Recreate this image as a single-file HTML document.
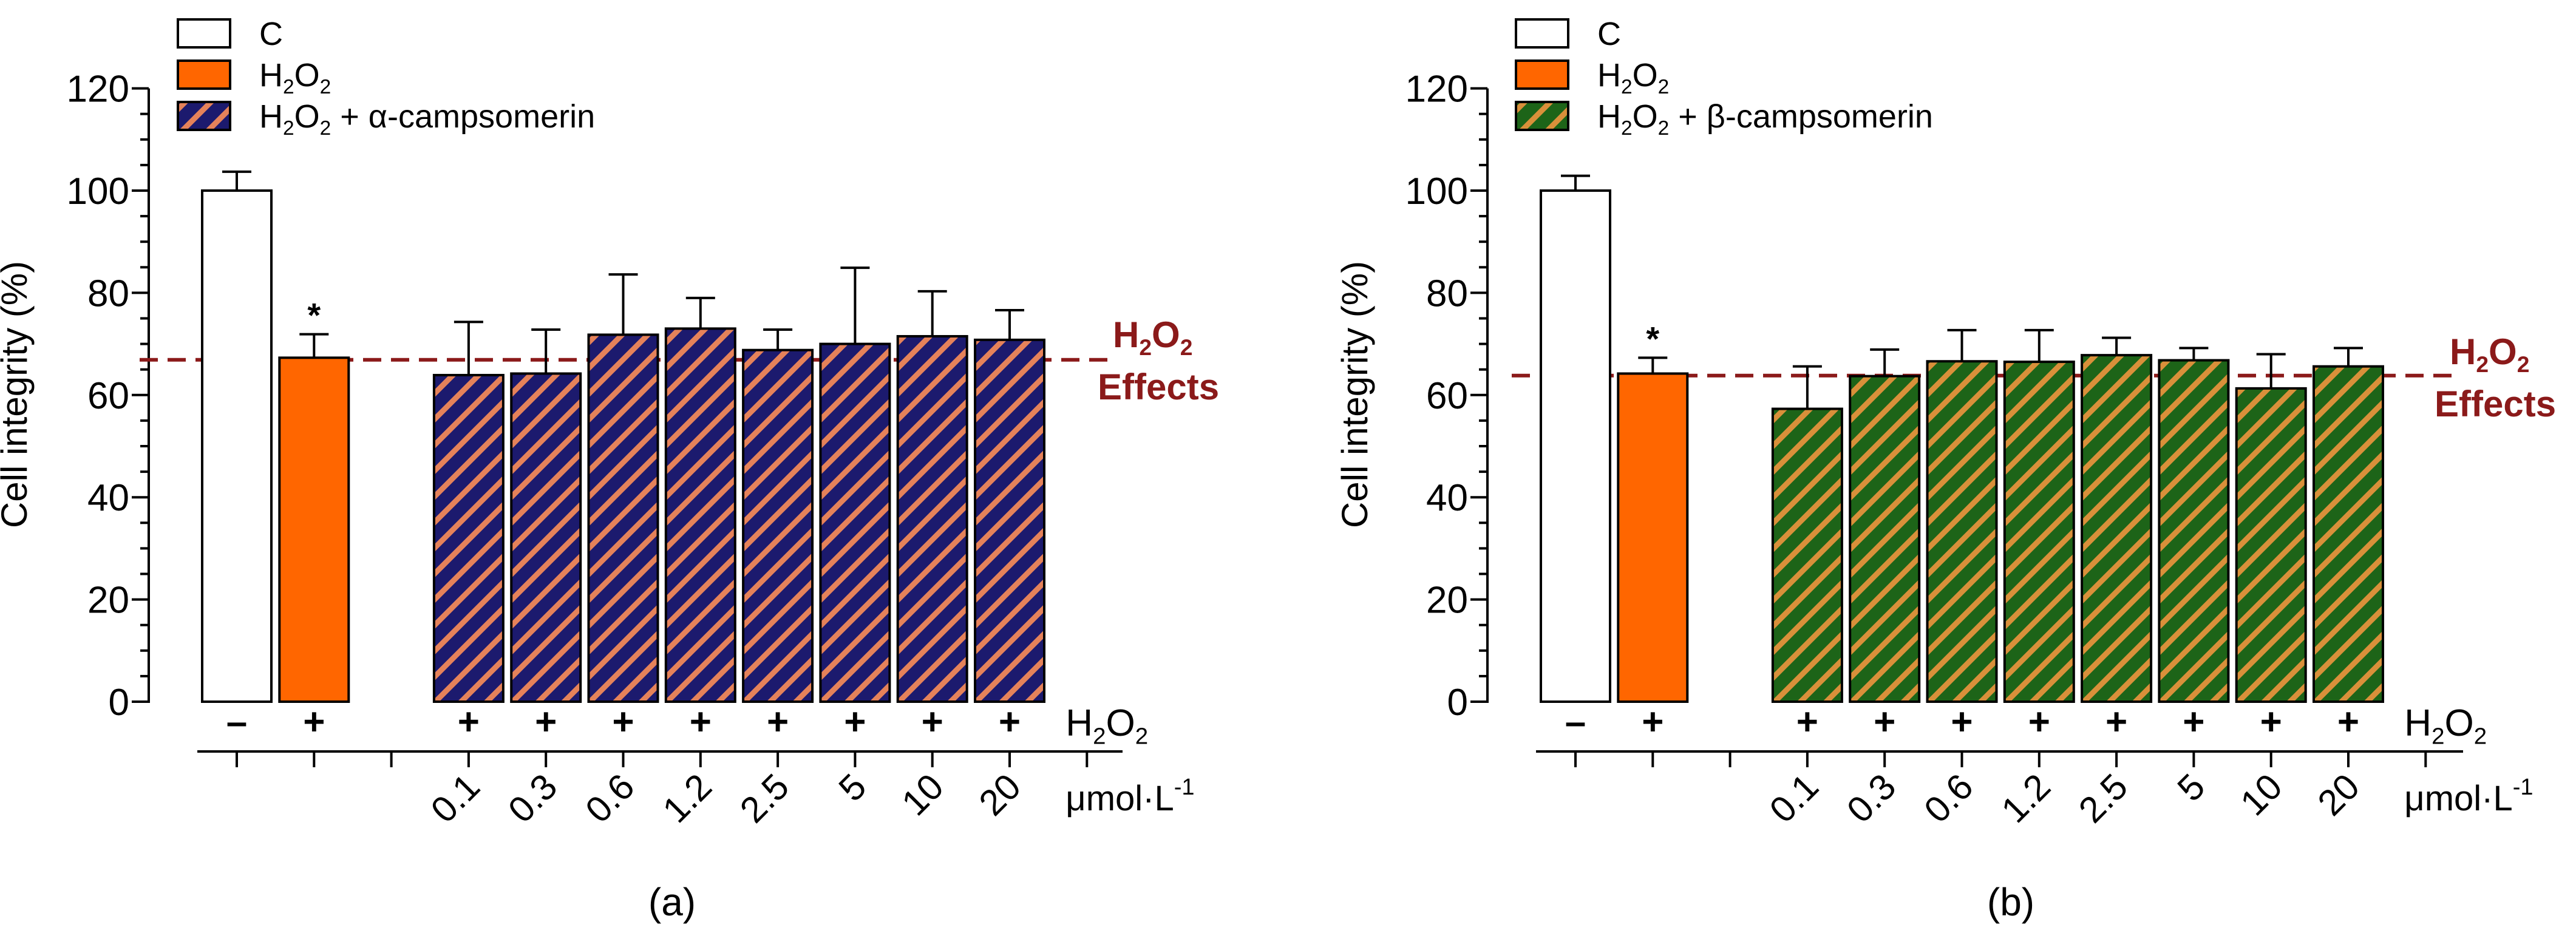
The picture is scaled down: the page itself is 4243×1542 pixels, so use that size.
<!DOCTYPE html>
<html><head><meta charset="utf-8"><style>
html,body{margin:0;padding:0;background:#fff}
svg{display:block;font-family:"Liberation Sans",Arial,sans-serif}
</style></head>
<body>
<svg id="chart" width="4243" height="1542" viewBox="0 0 4243 1542" xmlns="http://www.w3.org/2000/svg">
<defs>
<pattern id="hatchA" patternUnits="userSpaceOnUse" width="30" height="30" patternTransform="rotate(45)">
<rect width="30" height="30" fill="#1c1a6e"/><rect x="0" y="0" width="9" height="30" fill="#e5825a"/>
</pattern>
<pattern id="hatchB" patternUnits="userSpaceOnUse" width="30" height="30" patternTransform="rotate(45)">
<rect width="30" height="30" fill="#1d6418"/><rect x="0" y="0" width="9" height="30" fill="#d9903a"/>
</pattern>
</defs>
<g id="panelA"></g>
<g id="panelB"></g>
</svg>
<script>
const concLabels = ["0.1","0.3","0.6","1.2","2.5","5","10","20"];
const yTicks = [0,20,40,60,80,100,120];
const aCtrl = [100, 67.3];
const aCtrlErr = [103.7, 71.9];
const aValues = [63.9, 64.2, 71.8, 73.0, 68.8, 70.0, 71.5, 70.8];
const aErr = [74.3, 72.8, 83.6, 79.0, 72.8, 84.9, 80.3, 76.6];
const aRef = [66.9];
const bCtrl = [100, 64.2];
const bCtrlErr = [102.9, 67.3];
const bValues = [57.3, 63.7, 66.6, 66.5, 67.8, 66.8, 61.3, 65.6];
const bErr = [65.6, 68.9, 72.7, 72.7, 71.2, 69.2, 68.0, 69.2];
const bRef = [63.8];

const NS = "http://www.w3.org/2000/svg";
function mk(parent, tag, attrs, text){
  const e = document.createElementNS(NS, tag);
  for (const k in attrs) e.setAttribute(k, attrs[k]);
  if (text !== undefined) e.textContent = text;
  parent.appendChild(e);
  return e;
}
function h2o2(parent, x, y, size, attrs){
  const t = mk(parent, "text", Object.assign({x:x, y:y, "font-size":size}, attrs||{}));
  const parts = [["H",0],["2",1],["O",0],["2",1]];
  parts.forEach(p=>{
    mk(t, "tspan", p[1] ? {"font-size":size*0.62, dy: size*0.22} : (t.childNodes.length? {dy:-size*0.22}:{}), p[0]);
  });
  return t;
}

function drawPanel(g, cfg){
  const axX = cfg.axX, y0 = 1156, per = 8.42;
  const yS = v => y0 - v*per;
  const pitch = 127.3, bw = 114;
  const cx = i => cfg.c0 + i*pitch;
  const ax = mk(g,"g",{});
  
  
  mk(ax,"line",{x1:axX,y1:yS(0)+2,x2:axX,y2:yS(120),stroke:"#000","stroke-width":4});
  for (let v=0; v<=120; v+=5){
    const major = v%20===0;
    mk(ax,"line",{x1:axX-(major?28:14),y1:yS(v),x2:axX,y2:yS(v),stroke:"#000","stroke-width":4});
  }
  yTicks.forEach(v=>{
    const t = mk(ax,"text",{x:axX-32,y:yS(v)+22,"font-size":62,"text-anchor":"end",fill:"#000"},String(v));
    
    
  });
  const yt = mk(g,"text",{x:0,y:0,"font-size":60,"text-anchor":"middle",transform:`translate(${cfg.titleX},650) rotate(-90)`},"Cell integrity (%)");
  
  

  const ref = mk(g,"line",{x1:cfg.refX1,x2:cfg.refX2,y1:yS(cfg.ref[0]),y2:yS(cfg.ref[0]),stroke:"#8b1a1a","stroke-width":6,"stroke-dasharray":"30,16"});
  
  

  function bar(i, v, e, fill, name){
    const x = cx(i) - bw/2;
    const gb = mk(g,"g",{});
    
    
    mk(gb,"line",{x1:cx(i),x2:cx(i),y1:yS(v),y2:yS(e),stroke:"#000","stroke-width":4});
    mk(gb,"line",{x1:cx(i)-24,x2:cx(i)+24,y1:yS(e),y2:yS(e),stroke:"#000","stroke-width":4});
    mk(gb,"rect",{x:x,y:yS(v),width:bw,height:yS(0)-yS(v),fill:fill,stroke:"#000","stroke-width":4});
  }
  bar(0, cfg.ctrl[0], cfg.ctrlErr[0], "#fff", "bar-control");
  bar(1, cfg.ctrl[1], cfg.ctrlErr[1], "#ff6600", "bar-h2o2");
  const star = mk(g,"text",{x:cx(1),y:yS(cfg.ctrlErr[1])-12,"font-size":56,"text-anchor":"middle","font-weight":"bold"},"*");
  
  
  cfg.values.forEach((v,k)=>{
    bar(3+k, v, cfg.err[k], cfg.hatch, "bar-"+concLabels[k]);
  });

  const signs = ["\u2013","+", null].concat(concLabels.map(()=> "+"));
  signs.forEach((s,i)=>{
    if(!s) return;
    const t = mk(g,"text",{x:cx(i),y:1210,"font-size":62,"text-anchor":"middle","font-weight":"bold"},s);
    
    
  });
  const hl = h2o2(g, cx(11)-35, 1212, 62, {});
  
  

  const x2 = mk(g,"g",{});
  
  
  mk(x2,"line",{x1:cfg.x2a,x2:cfg.x2b,y1:1238,y2:1238,stroke:"#000","stroke-width":4});
  for(let i=0;i<=11;i++) mk(x2,"line",{x1:cx(i),x2:cx(i),y1:1238,y2:1264,stroke:"#000","stroke-width":4});
  concLabels.forEach((c,k)=>{
    const px = cx(3+k)+22, py = 1300;
    const t = mk(x2,"text",{x:px,y:py,"font-size":60,"text-anchor":"end",transform:`rotate(-45 ${px} ${py})`},c);
    
    
  });
  const u = mk(x2,"text",{x:cx(11)-35,y:1335,"font-size":58},"\u03bcmol\u00b7L");
  mk(u,"tspan",{"font-size":38,dy:-26},"-1");
  
  

  const ef = mk(g,"g",{fill:"#8b1a1a","font-weight":"bold"});
  
  
  h2o2(ef, cfg.effX+25, cfg.effY, 60, {fill:"#8b1a1a","font-weight":"bold"});
  mk(ef,"text",{x:cfg.effX,y:cfg.effY+86,"font-size":60,fill:"#8b1a1a","font-weight":"bold"},"Effects");

  const lg = mk(g,"g",{});
  
  
  const boxes = [["#fff","C"],["#ff6600","H2O2"],[cfg.hatch,"mix"]];
  boxes.forEach((b,i)=>{
    const y = 32 + i*68;
    mk(lg,"rect",{x:cfg.legX,y:y,width:86,height:46,fill:b[0],stroke:"#000","stroke-width":4});
    const tx = cfg.legX+134, ty = y+42;
    if(b[1]==="C") mk(lg,"text",{x:tx,y:ty,"font-size":54},"C");
    else if(b[1]==="H2O2") h2o2(lg,tx,ty,54,{});
    else {
      const t = h2o2(lg,tx,ty,54,{});
      mk(t,"tspan",{dy:-12},cfg.legTail);
    }
  });

  const cap = mk(g,"text",{x:cfg.capX,y:1508,"font-size":64,"text-anchor":"middle"},cfg.cap);
  
  
}

drawPanel(document.getElementById("panelA"), {
  axX:245, c0:390, titleX:44, ctrl:aCtrl, ctrlErr:aCtrlErr, values:aValues, err:aErr, ref:aRef,
  hatch:"url(#hatchA)", refX1:230, refX2:1838, x2a:325, x2b:1849, effX:1808, effY:572,
  legX:293, legTail:" + \u03b1-campsomerin", cap:"(a)", capX:1107
});
drawPanel(document.getElementById("panelB"), {
  axX:2450, c0:2595, titleX:2252, ctrl:bCtrl, ctrlErr:bCtrlErr, values:bValues, err:bErr, ref:bRef,
  hatch:"url(#hatchB)", refX1:2490, refX2:4046, x2a:2530, x2b:4057, effX:4010, effY:600,
  legX:2497, legTail:" + \u03b2-campsomerin", cap:"(b)", capX:3312
});
</script>
</body></html>
